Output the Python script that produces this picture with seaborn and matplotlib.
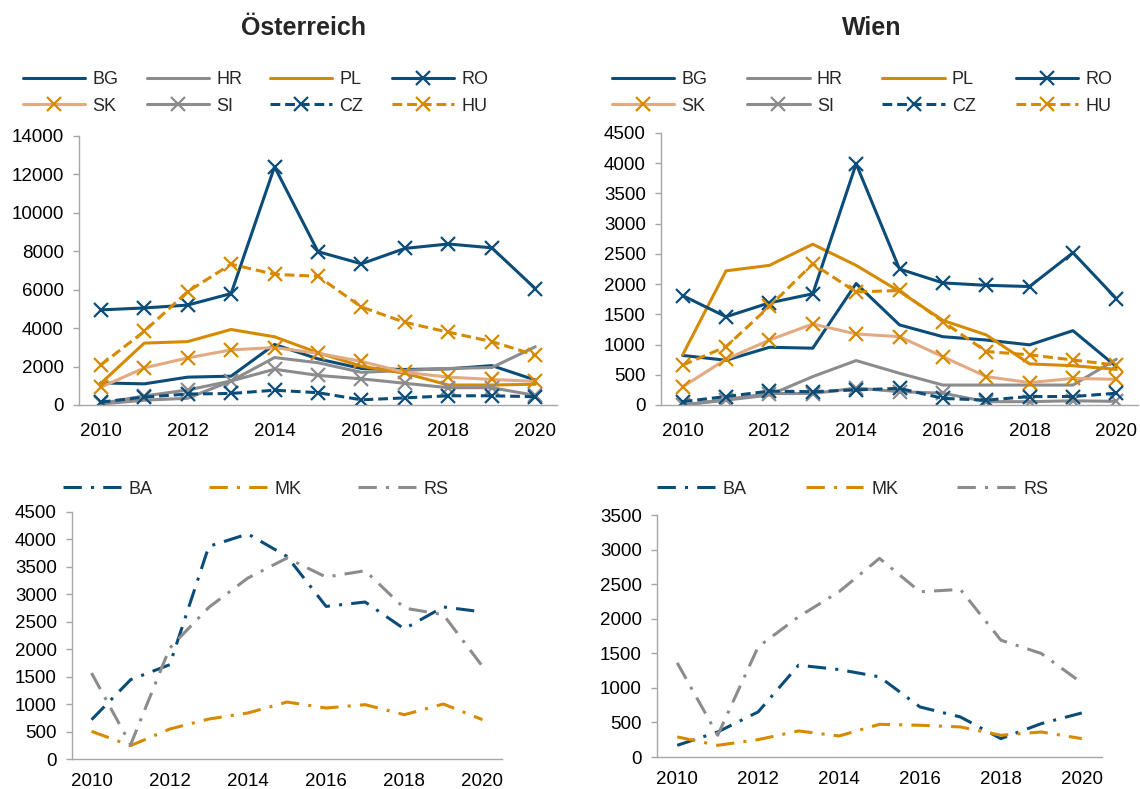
import matplotlib
matplotlib.use("Agg")
import matplotlib.pyplot as plt
import seaborn as sns

years = list(range(2010, 2021))

# Österreich (top left)
at_bg = [1150, 1100, 1450, 1500, 3150, 2400, 1900, 1850, 1880, 2050, 1300]
at_hr = [50, 250, 350, 1250, 2470, 2200, 1700, 1800, 1900, 1950, 3030]
at_pl = [1120, 3220, 3300, 3930, 3550, 2720, 2020, 1650, 1040, 1040, 1080]
at_ro = [4950, 5050, 5200, 5800, 12400, 7980, 7350, 8150, 8380, 8180, 6060]
at_sk = [920, 1930, 2450, 2870, 2990, 2690, 2270, 1700, 1450, 1330, 1230]
at_si = [80, 470, 780, 1250, 1860, 1540, 1360, 1130, 900, 900, 500]
at_cz = [150, 410, 570, 600, 770, 640, 270, 370, 480, 480, 430]
at_hu = [2080, 3830, 5900, 7330, 6800, 6700, 5100, 4300, 3790, 3300, 2600]

# Wien (top right)
w_bg = [820, 740, 955, 940, 2010, 1325, 1130, 1075, 995, 1230, 635]
w_hr = [0, 80, 165, 470, 735, 525, 330, 330, 330, 330, 757]
w_pl = [830, 2220, 2310, 2660, 2310, 1880, 1400, 1160, 680, 650, 590]
w_ro = [1810, 1460, 1690, 1840, 3990, 2250, 2020, 1980, 1960, 2520, 1760]
w_sk = [300, 757, 1075, 1340, 1175, 1130, 800, 470, 370, 440, 425]
w_si = [0, 90, 190, 190, 280, 220, 195, 55, 55, 70, 60]
w_cz = [55, 140, 230, 220, 250, 275, 110, 80, 140, 140, 195]
w_hu = [660, 965, 1630, 2335, 1870, 1895, 1380, 885, 830, 745, 660]

# Westbalkan (bottom row)
at_ba = [716, 1445, 1718, 3874, 4100, 3690, 2780, 2860, 2370, 2770, 2680]
at_mk = [504, 243, 546, 728, 838, 1038, 929, 990, 807, 1002, 716]
at_rs = [1566, 261, 2022, 2763, 3297, 3661, 3315, 3430, 2750, 2629, 1688]
w_ba = [169, 362, 652, 1328, 1265, 1159, 724, 579, 266, 483, 637]
w_mk = [290, 169, 251, 377, 304, 473, 459, 435, 314, 362, 266]
w_rs = [1362, 314, 1593, 2028, 2390, 2873, 2390, 2424, 1690, 1497, 1072]

BLUE = "#0B4D78"
GREY = "#8C8C8E"
ORANGE = "#D68A00"
PEACH = "#E3AA82"

DASH = (0, (3.2, 1.6))
DASHDOT = (0, (6, 3, 1, 3))

# name, colour, linestyle, marker, marker colour
eu_styles = [
    ("BG", BLUE, "-", None, None),
    ("HR", GREY, "-", None, None),
    ("PL", ORANGE, "-", None, None),
    ("RO", BLUE, "-", "x", BLUE),
    ("SK", PEACH, "-", "x", ORANGE),
    ("SI", GREY, "-", "x", GREY),
    ("CZ", BLUE, DASH, "x", BLUE),
    ("HU", ORANGE, DASH, "x", ORANGE),
]
wb_styles = [
    ("BA", BLUE, DASHDOT, None, None),
    ("MK", ORANGE, DASHDOT, None, None),
    ("RS", GREY, DASHDOT, None, None),
]

sns.set_theme(style="white")
plt.rcParams["font.family"] = ["Liberation Sans", "DejaVu Sans"]

fig = plt.figure(figsize=(11.4, 7.89), dpi=100)
W, H = 1140, 789


def box(left, top, right, bottom):
    return [left / W, 1 - bottom / H, (right - left) / W, (bottom - top) / H]


def style_axes(ax, ymax, ystep, xpad=13):
    ax.set_xlim(2009.5, 2020.5)
    ax.set_ylim(0, ymax)
    ax.set_xticks(range(2010, 2021, 2))
    ax.set_yticks(range(0, ymax + 1, ystep))
    for s in ["top", "right"]:
        ax.spines[s].set_visible(False)
    for s in ["left", "bottom"]:
        ax.spines[s].set_color("#A6A6A6")
        ax.spines[s].set_linewidth(1)
    ax.tick_params(axis="y", length=4, width=1, color="#A6A6A6", pad=7,
                   labelsize=13.5, labelcolor="black", left=True)
    ax.tick_params(axis="x", length=0, pad=xpad, labelsize=13.5, labelcolor="black")
    ax.set_xlabel("")
    ax.set_ylabel("")
    ax.grid(False)


def draw(ax, styles, series):
    handles = {}
    for (name, color, ls, marker, mcolor), vals in zip(styles, series):
        sns.lineplot(x=years, y=vals, ax=ax, color=color, linestyle=ls,
                     linewidth=2.2, marker=marker, markersize=10,
                     markeredgewidth=1.6,
                     markeredgecolor=mcolor if mcolor else color,
                     legend=False)
        line = ax.lines[-1]
        line.set_label(name)
        handles[name] = line
    return handles


def eu_legend(ax, handles, x0, colsp):
    order = ["BG", "SK", "HR", "SI", "PL", "CZ", "RO", "HU"]
    ax.legend([handles[n] for n in order], order, ncol=4, loc="center left",
              bbox_to_anchor=(x0 / W, 1 - 93 / H), bbox_transform=fig.transFigure,
              frameon=False, fontsize=13, handlelength=3.45, handletextpad=0.4,
              columnspacing=colsp, labelspacing=0.5, borderpad=0, borderaxespad=0)


def wb_legend(ax, handles, x0, colsp):
    order = ["BA", "MK", "RS"]
    ax.legend([handles[n] for n in order], order, ncol=3, loc="center left",
              bbox_to_anchor=(x0 / W, 1 - 489 / H), bbox_transform=fig.transFigure,
              frameon=False, fontsize=13, handlelength=3.2, handletextpad=0.45,
              columnspacing=colsp, borderpad=0, borderaxespad=0)


ax1 = fig.add_axes(box(79, 136, 557, 405))
h = draw(ax1, eu_styles, [at_bg, at_hr, at_pl, at_ro, at_sk, at_si, at_cz, at_hu])
style_axes(ax1, 14000, 2000)
eu_legend(ax1, h, 23, 1.55)

ax2 = fig.add_axes(box(661, 133, 1138, 405))
h = draw(ax2, eu_styles, [w_bg, w_hr, w_pl, w_ro, w_sk, w_si, w_cz, w_hu])
style_axes(ax2, 4500, 500)
eu_legend(ax2, h, 612, 2.2)

ax3 = fig.add_axes(box(72, 512, 502, 759))
h = draw(ax3, wb_styles, [at_ba, at_mk, at_rs])
style_axes(ax3, 4500, 500, xpad=10)
wb_legend(ax3, h, 63, 3.1)

ax4 = fig.add_axes(box(657, 515, 1102, 757))
h = draw(ax4, wb_styles, [w_ba, w_mk, w_rs])
style_axes(ax4, 3500, 500, xpad=10)
wb_legend(ax4, h, 657, 3.25)

fig.text(303 / W, 1 - 28 / H, "Österreich", ha="center", va="center",
         fontsize=18, fontweight="bold")
fig.text(872 / W, 1 - 28 / H, "Wien", ha="center", va="center",
         fontsize=18, fontweight="bold")

fig.savefig("out.png", dpi=100, facecolor="white")
